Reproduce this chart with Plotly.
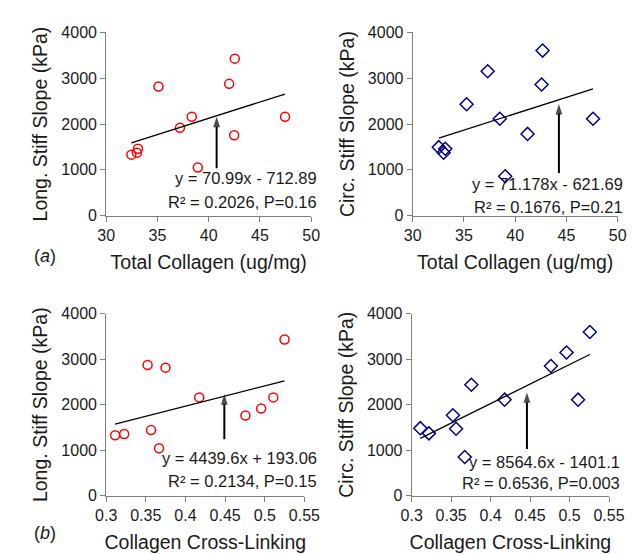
import plotly.graph_objects as go

# ---- data ----
tc_long_x = [32.46, 33.0, 33.1, 35.1, 37.2, 38.35, 38.94, 42.0, 42.55, 42.49, 47.45]
tc_long_y = [1333, 1376, 1460, 2822, 1919, 2159, 1051, 2878, 3429, 1757, 2159]
tc_circ_x = [32.55, 33.18, 33.02, 35.26, 37.32, 38.5, 39.03, 41.21, 42.58, 42.68, 47.6]
tc_circ_y = [1496, 1460, 1376, 2434, 3153, 2116, 860, 1785, 2864, 3605, 2116]
cl_long_x = [0.3113, 0.3227, 0.3522, 0.3566, 0.3667, 0.3748, 0.4173, 0.4756, 0.4954, 0.5108, 0.5249]
cl_long_y = [1329, 1357, 2870, 1442, 1044, 2813, 2160, 1762, 1918, 2160, 3432]
cl_circ_x = [0.3109, 0.3218, 0.3522, 0.3562, 0.3672, 0.3756, 0.4177, 0.4764, 0.4962, 0.5108, 0.5257]
cl_circ_y = [1485, 1371, 1769, 1471, 853, 2437, 2110, 2849, 3147, 2110, 3595]

fit_slope = [70.99, 71.178, 4439.6, 8564.6]
fit_intercept = [-712.89, -621.69, 193.06, -1401.1]
eq_text = ["y = 70.99x - 712.89", "y = 71.178x - 621.69",
           "y = 4439.6x + 193.06", "y = 8564.6x - 1401.1"]
r2_text = ["R² = 0.2026, P=0.16", "R² = 0.1676, P=0.21",
           "R² = 0.2134, P=0.15", "R² = 0.6536, P=0.003"]
arrow_x = [40.78, 44.27, 0.449, 0.446]
arrow_y_tail = [1037, 931, 1243, 1030]
arrow_y_head = [2160, 2440, 2230, 2270]

x_titles = ["Total Collagen (ug/mg)", "Total Collagen (ug/mg)",
            "Collagen Cross-Linking", "Collagen Cross-Linking"]
y_titles = ["Long. Stiff Slope (kPa)", "Circ. Stiff Slope (kPa)",
            "Long. Stiff Slope (kPa)", "Circ. Stiff Slope (kPa)"]
panel_labels = ["(<i>a</i>)", "(<i>b</i>)"]

# ---- layout helpers ----
W, H = 640, 554
FONT = "Liberation Sans, Arial, sans-serif"
TXT = "#1a1a1a"
AX = "#808080"

def px(x):
    return x / W

def py(y):
    return 1 - y / H

# plot area boxes in pixels: (left, right, top, bottom)
boxes = [(91, 305, 17, 206), (411, 625, 17, 206), (91, 298, 307, 495), (410, 616, 307, 495)]
xr = [[30, 50], [30, 50], [0.3, 0.55], [0.3, 0.55]]
xd = [5, 5, 0.05, 0.05]

series = [(tc_long_x, tc_long_y, "long"), (tc_circ_x, tc_circ_y, "circ"),
          (cl_long_x, cl_long_y, "long"), (cl_circ_x, cl_circ_y, "circ")]

fig = go.Figure()
annotations = []

for i, (xs, ys, kind) in enumerate(series):
    ax_id = "" if i == 0 else str(i + 1)
    xa, ya = "x" + ax_id, "y" + ax_id
    if kind == "long":
        marker = dict(symbol="circle-open", size=9, color="#ff0000", line=dict(width=1.5, color="#ff0000"))
    else:
        marker = dict(symbol="diamond-open", size=10, color="#00008b", line=dict(width=1.5, color="#00008b"))
    fig.add_trace(go.Scatter(x=xs, y=ys, mode="markers", marker=marker,
                             xaxis=xa, yaxis=ya, showlegend=False, hoverinfo="skip"))
    x0, x1 = min(xs), max(xs)
    fig.add_trace(go.Scatter(x=[x0, x1],
                             y=[fit_slope[i] * x0 + fit_intercept[i], fit_slope[i] * x1 + fit_intercept[i]],
                             mode="lines", line=dict(color="black", width=1.3),
                             xaxis=xa, yaxis=ya, showlegend=False, hoverinfo="skip"))
    # arrow (shaft + head)
    fig.add_trace(go.Scatter(x=[arrow_x[i], arrow_x[i]], y=[arrow_y_tail[i], arrow_y_head[i]],
                             mode="lines+markers", line=dict(color="black", width=2),
                             marker=dict(symbol="arrow", size=[0, 11], angleref="previous",
                                         color="black", line=dict(width=0)),
                             xaxis=xa, yaxis=ya, showlegend=False, hoverinfo="skip"))
    l, r, t, b = boxes[i]
    axis_common = dict(showgrid=False, zeroline=False, showline=True, linecolor=AX, linewidth=1,
                       ticks="outside", ticklen=5, tickcolor=AX,
                       tickfont=dict(family=FONT, size=16, color=TXT))
    fig.layout["xaxis" + ax_id] = dict(axis_common, domain=[px(l), px(r)], range=xr[i], dtick=xd[i],
                                       tick0=xr[i][0], anchor=ya,
                                       title=dict(text=x_titles[i], standoff=12,
                                                  font=dict(family=FONT, size=19.5, color=TXT)))
    fig.layout["yaxis" + ax_id] = dict(axis_common, domain=[py(b), py(t)], range=[0, 4000], dtick=1000,
                                       anchor=xa,
                                       title=dict(text=y_titles[i], standoff=8,
                                                  font=dict(family=FONT, size=19.5, color=TXT)))

# equation texts (pixel positions)
eq_pos = [(313, 167, 192), (633, 173, 197), (313, 456, 480), (630, 460, 482)]
for i, (rx, y1, y2) in enumerate(eq_pos):
    annotations.append(dict(x=px(rx), y=py(y1), xref="paper", yref="paper", text=eq_text[i],
                            showarrow=False, xanchor="right", yanchor="middle",
                            font=dict(family=FONT, size=16.5, color=TXT)))
    annotations.append(dict(x=px(rx), y=py(y2), xref="paper", yref="paper", text=r2_text[i],
                            showarrow=False, xanchor="right", yanchor="middle",
                            font=dict(family=FONT, size=16.5, color=TXT)))

for lab, yy in zip(panel_labels, [248, 533]):
    annotations.append(dict(x=px(14), y=py(yy), xref="paper", yref="paper", text=lab,
                            showarrow=False, xanchor="left", yanchor="middle",
                            font=dict(family=FONT, size=18, color=TXT)))

fig.update_layout(width=W, height=H, margin=dict(l=0, r=0, t=0, b=0),
                  paper_bgcolor="white", plot_bgcolor="white", annotations=annotations)

fig.write_html("out.html")
